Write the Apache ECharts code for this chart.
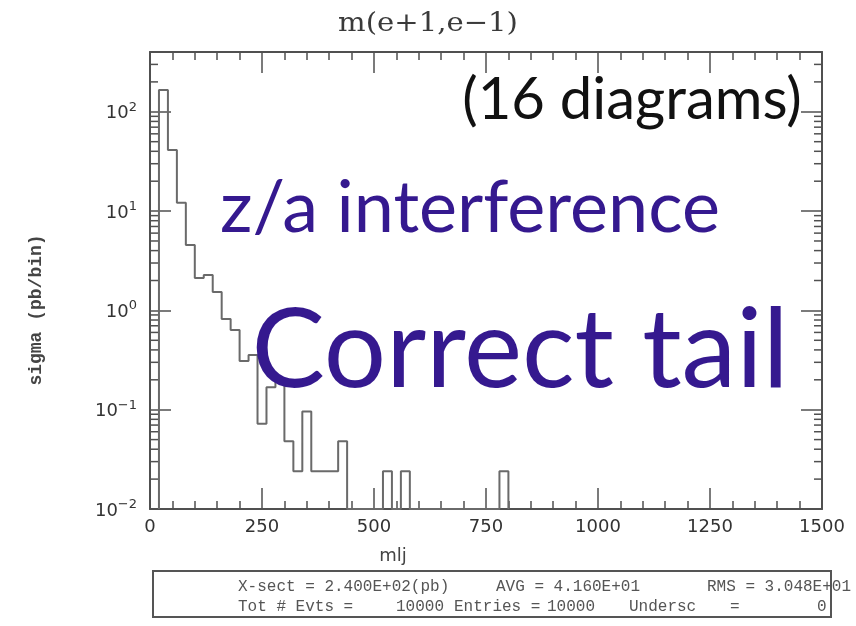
<!DOCTYPE html>
<html><head><meta charset="utf-8">
<script src="https://cdn.jsdelivr.net/npm/echarts@6/dist/echarts.min.js"></script>
<style>html,body{margin:0;padding:0;background:#fff}#c{width:856px;height:626px}</style>
</head><body><div id="c"></div>
<script>
// ---- data ----
const binWidth = 20;
const binStarts = [20,40,60,80,100,120,140,160,180,200,220,240,260,280,300,320,340,360,380,400,420,520,560,780];
const binValues = [166,41.2,12.1,4.56,2.12,2.27,1.53,0.82,0.635,0.31,0.356,0.072,0.168,0.192,0.048,0.024,0.096,0.024,0.024,0.024,0.048,0.024,0.024,0.024];
const xTickLabels = [0,250,500,750,1000,1250,1500];
const yTickLabels = [0.01,0.1,1,10,100];
const yMax = 400;
const minorMultipliers = [2,3,4,5,6,7,8,9];
const statsLine1 = [["X-sect = 2.400E+02(pb)",238],["AVG = 4.160E+01",496],["RMS = 3.048E+01",707]];
const statsLine2 = [["Tot # Evts =",238],["10000",396],["Entries =",454],["10000",547],["Undersc",629],["=",730],["0",817]];

// ---- build step outline ----
const floor = yTickLabels[0];
const pts = [];
let prevEnd = null;
for (let i = 0; i < binStarts.length; i++) {
  const s = binStarts[i], e = s + binWidth, v = binValues[i];
  if (prevEnd === null || s !== prevEnd) {
    if (prevEnd !== null) pts.push([prevEnd, floor]);
    pts.push([s, floor]);
  }
  pts.push([s, v]); pts.push([e, v]);
  prevEnd = e;
}
pts.push([prevEnd, floor]);

const minorVals = [];
yTickLabels.forEach(d => minorMultipliers.forEach(m => { const v = d*m; if (v < yMax) minorVals.push([0, v]); }));

const axisCol = '#505050';
const chart = echarts.init(document.getElementById('c'), null, {renderer:'canvas'});
const xAxisBase = {
  type:'value', min:xTickLabels[0], max:xTickLabels[xTickLabels.length-1],
  interval: xTickLabels[1]-xTickLabels[0],
  axisLine:{show:true, onZero:false, lineStyle:{color:axisCol, width:2}},
  axisTick:{show:true, inside:true, length:21, lineStyle:{color:axisCol, width:1.5}},
  minorTick:{show:true, splitNumber:5, length:8, lineStyle:{color:axisCol, width:1.5}},
  splitLine:{show:false}, minorSplitLine:{show:false}
};
const yAxisBase = {
  type:'log', logBase:10, min:yTickLabels[0], max:yMax,
  axisLine:{show:true, onZero:false, lineStyle:{color:axisCol, width:2}},
  axisTick:{show:true, inside:true, length:21, lineStyle:{color:axisCol, width:1.5}},
  splitLine:{show:false}
};
function expLabel(v){
  const l = Math.log10(v), e = Math.round(l);
  if (Math.abs(l - e) > 1e-6) return '';
  return '{b|10}{s|' + (e < 0 ? '\u2212' + (-e) : e) + '}';
}
const graphics = [
  {type:'text', x:428, y:24, z:10, scaleX:1.12, originX:0, originY:0,
   style:{text:'m(e+1,e\u22121)', font:'26px "DejaVu Serif"', fill:'#3a3a3a', align:'center', verticalAlign:'middle'}},
  {type:'text', x:36, y:310, rotation:Math.PI/2, z:10, style:{text:'sigma (pb/bin)', font:'bold 18px "Liberation Mono"', fill:'#444', align:'center', verticalAlign:'middle'}},
  {type:'text', x:393, y:556, z:10, style:{text:'mlj', font:'18px "DejaVu Sans"', fill:'#444', align:'center', verticalAlign:'middle'}},
  {type:'rect', shape:{x:153, y:571, width:678, height:46}, z:10, style:{fill:null, stroke:'#555', lineWidth:2}},
  {type:'text', x:632, y:100, z:20, style:{text:'(16 diagrams)', font:'58px Lato', fill:'#111', align:'center', verticalAlign:'middle'}},
  {type:'text', x:470, y:209, z:20, style:{text:'z/a interference', font:'72px Lato', fill:'#35198f', align:'center', verticalAlign:'middle'}},
  {type:'text', x:520, y:352, z:20, style:{text:'Correct tail', font:'110px Lato', fill:'#35198f', align:'center', verticalAlign:'middle'}}
];
statsLine1.forEach(([t,x]) => graphics.push({type:'text', x:x, y:587, z:10, style:{text:t, font:'16px "Liberation Mono"', fill:'#555', align:'left', verticalAlign:'middle'}}));
statsLine2.forEach(([t,x]) => graphics.push({type:'text', x:x, y:607, z:10, style:{text:t, font:'16px "Liberation Mono"', fill:'#555', align:'left', verticalAlign:'middle'}}));

chart.setOption({
  animation:false,
  backgroundColor:'#fff',
  grid:{left:150, top:52, right:34, bottom:117, containLabel:false},
  xAxis:[
    Object.assign({}, xAxisBase, {position:'bottom', axisLabel:{show:true, margin:9, fontSize:18, color:'#333', fontFamily:'DejaVu Sans', formatter:(v)=>String(v)}}),
    Object.assign({}, xAxisBase, {position:'top', axisLabel:{show:false}})
  ],
  yAxis:[
    Object.assign({}, yAxisBase, {position:'left', axisLabel:{show:true, margin:13, formatter:expLabel,
      rich:{b:{fontSize:18, color:'#333', fontFamily:'DejaVu Sans', verticalAlign:'bottom'},
            s:{fontSize:13, color:'#333', fontFamily:'DejaVu Sans', verticalAlign:'top', padding:[0,0,9,0]}}}}),
    Object.assign({}, yAxisBase, {position:'right', axisLabel:{show:false}})
  ],
  series:[
    {type:'line', data:pts, xAxisIndex:0, yAxisIndex:0, showSymbol:false, symbol:'none', clip:true,
     lineStyle:{color:'#6a6a6a', width:2}, z:3},
    {type:'custom', data:minorVals, xAxisIndex:0, yAxisIndex:0, encode:{x:0, y:1}, z:4,
     renderItem:function(params, api){
       const p = api.coord([0, api.value(1)]);
       const cs = params.coordSys;
       const st = {stroke:axisCol, lineWidth:1.5};
       return {type:'group', children:[
         {type:'line', shape:{x1:cs.x, y1:p[1], x2:cs.x+8, y2:p[1]}, style:st},
         {type:'line', shape:{x1:cs.x+cs.width-8, y1:p[1], x2:cs.x+cs.width, y2:p[1]}, style:st}
       ]};
     }}
  ],
  graphic:graphics
});
</script></body></html>
